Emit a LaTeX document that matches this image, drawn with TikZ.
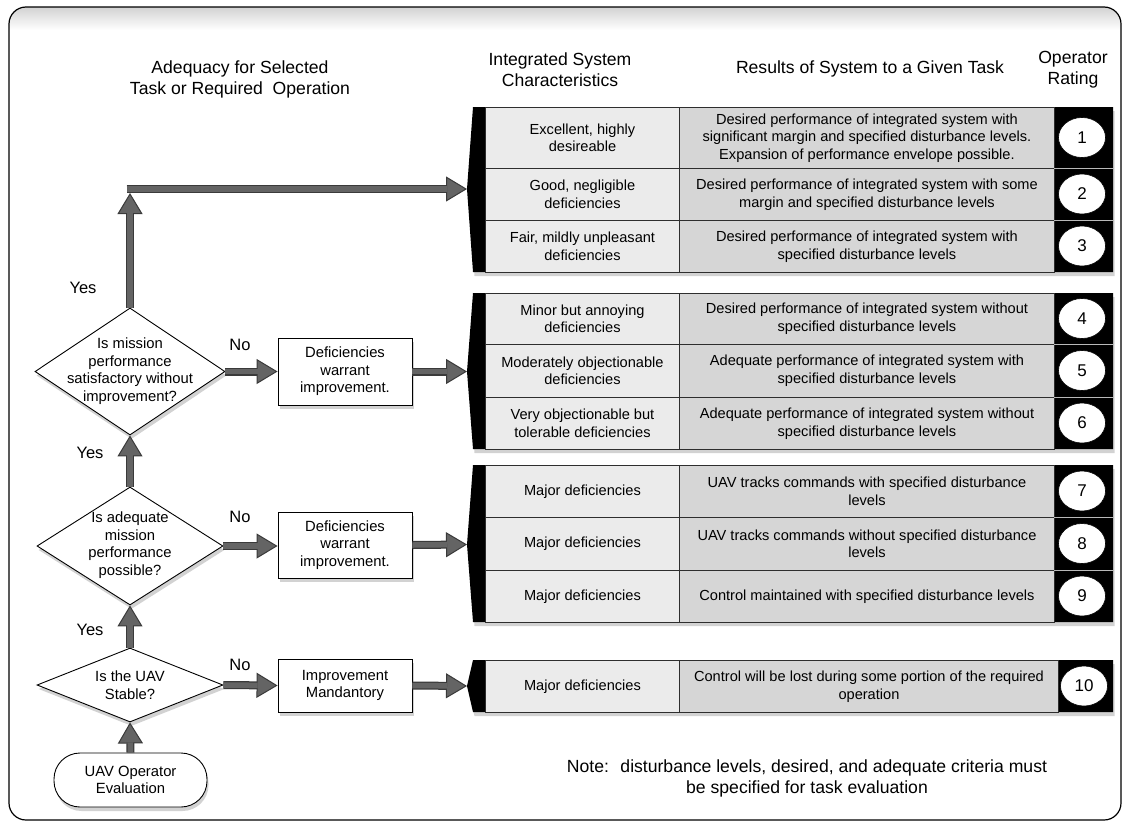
\documentclass[tikz,border=0pt]{standalone}
\usepackage{fontspec}
\setmainfont{Liberation Sans}
\usetikzlibrary{shapes.geometric,arrows.meta,shadows}

\definecolor{arrowgray}{HTML}{646464}
\definecolor{arrowedge}{HTML}{3A3A3A}
\definecolor{cellA}{HTML}{EBEBEB}
\definecolor{cellB}{HTML}{D6D6D6}
\definecolor{lineC}{HTML}{2E2E2E}

\newcommand{\tabfnt}{\fontsize{14.6}{17.6}\selectfont}
\newcommand{\flowfnt}{\fontsize{14.8}{17.6}\selectfont}
\newcommand{\hdrfnt}{\fontsize{17.6}{21}\selectfont}

\tikzset{
  frame/.style={draw=black, line width=1.2pt, rounded corners=17pt},
  hdr/.style={align=center, font=\hdrfnt, inner sep=0pt},
  flowtext/.style={align=center, font=\flowfnt, inner sep=0pt},
  softshadow/.style={drop shadow={shadow xshift=1.5pt, shadow yshift=-4pt, opacity=0.35}},
  dia/.style={diamond, draw=black, line width=0.9pt, fill=white, inner sep=0pt, softshadow},
  flowbox/.style={rectangle, draw=black, line width=0.9pt, fill=white, align=center,
                  font=\flowfnt, inner sep=0pt, minimum width=134pt, softshadow},
  startbox/.style={rectangle, rounded corners=26pt, draw=black, line width=0.9pt, fill=white,
                   align=center, font=\flowfnt, inner sep=0pt, minimum width=153pt,
                   minimum height=54pt, softshadow},
  yn/.style={font=\fontsize{16.5}{19}\selectfont, inner sep=0pt},
  barrow/.style={draw=arrowedge, line width=8pt,
                 -{Triangle[width=25pt,length=21pt,line width=1pt,fill=arrowgray]},
                 postaction={draw=arrowgray, line width=5.5pt, shorten >=20pt, -}},
  tblbg/.style={fill=black, softshadow},
  cA/.style={rectangle, anchor=north west, minimum width=194pt, fill=cellA, draw=lineC,
             line width=0.9pt, align=center, font=\tabfnt, inner sep=0pt},
  cB/.style={rectangle, anchor=north west, minimum width=375pt, fill=cellB, draw=lineC,
             line width=0.9pt, align=center, font=\tabfnt, inner sep=0pt},
  num/.style={ellipse, fill=white, draw=black, line width=0.6pt, minimum width=47pt,
              minimum height=40pt, inner sep=0pt, font=\fontsize{17}{20}\selectfont},
  sepline/.style={draw=gray!55, line width=0.8pt},
}

\begin{document}
\begin{tikzpicture}[x=1pt,y=-1pt]
\useasboundingbox (0,0) rectangle (1123,822);
\fill[white] (0,0) rectangle (1123,822);

% outer frame
\begin{scope}
  \clip[rounded corners=17pt] (9,7) rectangle (1121,820);
  \shade[top color=gray!35, bottom color=white] (9,7) rectangle (1121,30);
\end{scope}
\draw[frame] (9,7) rectangle (1121,820);

% headers
\node[hdr] (h1) at (240,79.5) {Adequacy for Selected\\Task or Required~ Operation};
\node[hdr] (h2) at (560,69.5) {Integrated System\\Characteristics};
\node[hdr] (h3) at (870,69) {Results of System to a Given Task};
\node[hdr] (h4) at (1073,69.5) {Operator\\Rating};

% ---------- table 1 ----------
\fill[tblbg] (473,107) -- (1113,107) -- (1113,272) -- (473,272) -- (467,189) -- cycle;
\coordinate (t1in) at (467,189);
\node[cA, minimum height=61pt] (r1a) at (485,107) {Excellent, highly\\desireable};
\node[cB, minimum height=61pt] (r1b) at (679,107) {Desired performance of integrated system with\\significant margin and specified disturbance levels.\\Expansion of performance envelope possible.};
\node[cA, minimum height=52pt] (r2a) at (485,168) {Good, negligible\\deficiencies};
\node[cB, minimum height=52pt] (r2b) at (679,168) {Desired performance of integrated system with some\\margin and specified disturbance levels};
\node[cA, minimum height=52pt] (r3a) at (485,220) {Fair, mildly unpleasant\\deficiencies};
\node[cB, minimum height=52pt] (r3b) at (679,220) {Desired performance of integrated system with\\specified disturbance levels};
\draw[sepline] (1054,168) -- (1113,168);
\draw[sepline] (1054,220) -- (1113,220);
\node[num] (n1) at (1082,137.5) {1};
\node[num] (n2) at (1082,194) {2};
\node[num] (n3) at (1082,246) {3};

% ---------- table 2 ----------
\fill[tblbg] (473,293) -- (1113,293) -- (1113,449) -- (473,449) -- (467,371.5) -- cycle;
\coordinate (t2in) at (467,371.5);
\node[cA, minimum height=51pt] (r4a) at (485,293) {Minor but annoying\\deficiencies};
\node[cB, minimum height=51pt] (r4b) at (679,293) {Desired performance of integrated system without\\specified disturbance levels};
\node[cA, minimum height=53pt] (r5a) at (485,344) {Moderately objectionable\\deficiencies};
\node[cB, minimum height=53pt] (r5b) at (679,344) {Adequate performance of integrated system with\\specified disturbance levels};
\node[cA, minimum height=52pt] (r6a) at (485,397) {Very objectionable but\\tolerable deficiencies};
\node[cB, minimum height=52pt] (r6b) at (679,397) {Adequate performance of integrated system without\\specified disturbance levels};
\draw[sepline] (1054,344) -- (1113,344);
\draw[sepline] (1054,397) -- (1113,397);
\node[num] (n4) at (1082,318.5) {4};
\node[num] (n5) at (1082,370.5) {5};
\node[num] (n6) at (1082,423) {6};

% ---------- table 3 ----------
\fill[tblbg] (473,465) -- (1113,465) -- (1113,622) -- (473,622) -- (467,544.5) -- cycle;
\coordinate (t3in) at (467,544.5);
\node[cA, minimum height=52pt] (r7a) at (485,465) {Major deficiencies};
\node[cB, minimum height=52pt] (r7b) at (679,465) {UAV tracks commands with specified disturbance\\levels};
\node[cA, minimum height=53pt] (r8a) at (485,517) {Major deficiencies};
\node[cB, minimum height=53pt] (r8b) at (679,517) {UAV tracks commands without specified disturbance\\levels};
\node[cA, minimum height=52pt] (r9a) at (485,570) {Major deficiencies};
\node[cB, minimum height=52pt] (r9b) at (679,570) {Control maintained with specified disturbance levels};
\draw[sepline] (1054,517) -- (1113,517);
\draw[sepline] (1054,570) -- (1113,570);
\node[num] (n7) at (1082,491) {7};
\node[num] (n8) at (1082,543.5) {8};
\node[num] (n9) at (1082,596) {9};

% ---------- table 4 ----------
\fill[tblbg] (473,660) -- (1113,660) -- (1113,712) -- (473,712) -- (467,686) -- cycle;
\coordinate (t4in) at (467,686);
\node[cA, minimum height=52pt] (r10a) at (485,660) {Major deficiencies};
\node[cB, minimum height=52pt, minimum width=379pt] (r10b) at (679,660) {Control will be lost during some portion of the required\\operation};
\node[num] (n10) at (1084,686) {10};

% ---------- flow chart ----------
\node[dia, minimum width=190pt, minimum height=127pt] (d1) at (130,371.5) {};
\node[flowtext] (d1t) at (130,371) {Is mission\\performance\\satisfactory without\\improvement?};
\node[dia, minimum width=186pt, minimum height=118pt] (d2) at (130,546) {};
\node[flowtext] (d2t) at (130,545) {Is adequate\\mission\\performance\\possible?};
\node[dia, minimum width=186pt, minimum height=74pt] (d3) at (130,685) {};
\node[flowtext] (d3t) at (130,685) {Is the UAV\\Stable?};
\node[startbox] (s) at (130.5,780) {UAV Operator\\Evaluation};

\node[flowbox, minimum height=67pt] (b1) at (345,371.5) {Deficiencies\\warrant\\improvement.};
\node[flowbox, minimum height=66pt] (b2) at (345,545) {Deficiencies\\warrant\\improvement.};
\node[flowbox, minimum height=53pt] (b3) at (345,685.5) {Improvement\\Mandantory};

\coordinate (c1) at (130,193);
\coordinate (c0) at (126.5,189);

% arrows
\draw[barrow] (s.north) -- (d3.south);
\draw[barrow] (d3.north) -- (d2.south);
\draw[barrow] (d2.north) -- (d1.south);
\draw[barrow] (d1.north) -- (c1);
\draw[barrow] (c0) -- (t1in);
\draw[barrow] (d1.east) -- (b1.west);
\draw[barrow] (b1.east) -- (t2in);
\draw[barrow] (d2.east) -- (b2.west |- d2.east);
\draw[barrow] (b2.east) -- (t3in);
\draw[barrow] (d3.east) -- (b3.west);
\draw[barrow] (b3.east) -- (t4in);

% yes / no labels
\node[yn] (y1) at (83,288) {Yes};
\node[yn] (y2) at (90,453) {Yes};
\node[yn] (y3) at (90,630) {Yes};
\node[yn] (no1) at (240,345) {No};
\node[yn] (no2) at (240,517) {No};
\node[yn] (no3) at (240,665) {No};

% note
\node[hdr] (note) at (807,778.5) {Note:~ disturbance levels, desired, and adequate criteria must\\be specified for task evaluation};
\end{tikzpicture}
\end{document}
